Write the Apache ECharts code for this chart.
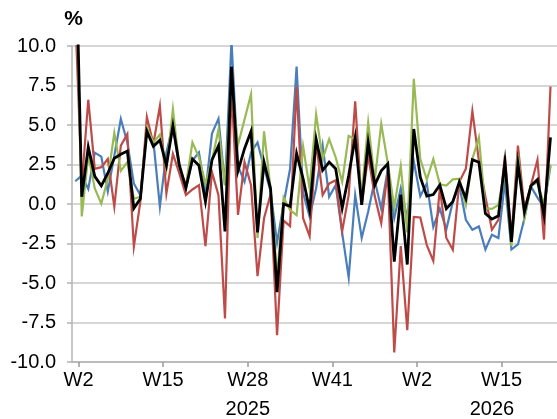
<!DOCTYPE html>
<html>
<head>
<meta charset="utf-8">
<title>Weekly change</title>
<script src="https://cdn.jsdelivr.net/npm/echarts@6/dist/echarts.min.js"></script>
<style>
  html, body { margin: 0; padding: 0; background: #fff; }
  #main { width: 557px; height: 419px; }
</style>
</head>
<body>
<div id="main"></div>
<script>
// one value per week, first point is W1 2025, last is W22 2026
const blueSeries = [1.44, 1.8, 0.95, 3.25, 3.0, 0.8, 3.06, 5.38, 3.9, 1.3,
  0.56, 4.7, 4.0, -0.17, 3.27, 5.0, 2.2, 1.0, 2.75, 3.27,
  0.77, 4.46, 5.4, 1.2, 10.3, 2.4, 1.4, 3.27, 3.9, 2.3,
  0.8, -2.45, 0.0, 2.23, 8.7, 0.7, -0.8, 1.0, 3.7, 0.46,
  1.19, -1.83, -4.65, 0.56, -2.15, -0.48, 1.5, -0.3, 2.2, -0.9,
  1.0, -0.9, 2.7, 0.5, 1.3, -1.45, -0.3, -1.6, 0.15, 1.19,
  -1.0, -1.63, -1.42, -2.88, -1.94, -2.15, 1.4, -2.88, -2.56, -0.9,
  1.1, 0.4, -0.2, 2.4]

const redSeries = [12, 1.2, 6.6, 2.23, 2.33, 2.85, -0.17, 3.69, 4.42, -2.7,
  0.15, 5.5, 3.8, 6.2, 0.67, 3.17, 1.92, 0.56, 0.92, 1.19,
  -2.67, 2.02, 0.56, -7.25, 7.3, -0.69, 2.65, 1.19, -4.57, -0.9,
  0.6, -8.3, -1.05, -1.4, 7.44, -0.9, -2.04, 3.9, 0.56, 1.29,
  1.5, -1.73, 0.56, 6.5, -0.06, 3.06, 0.5, -1.21, 2.0, -9.4,
  -2.67, -7.98, -0.82, -0.85, -2.6, -3.6, 1.0, -2.15, -2.9, 1.4,
  2.23, 5.88, 2.75, 0.46, -1.63, -1.0, 3.06, -2.1, 3.69, -0.3,
  1.19, 2.8, -2.25, 7.44]

const greenSeries = [17, -0.79, 3.1, 0.98, 0.02, 1.6, 4.5, 2.1, 2.65, 0.33,
  0.46, 4.83, 3.9, 4.4, 2.2, 6.0, 2.33, 1.19, 3.9, 2.96,
  1.29, 2.75, 4.73, 1.19, 7.6, 3.75, 5.35, 6.95, -2.15, 4.6,
  0.98, -4.6, 0.4, -0.38, -0.7, 3.65, 0.98, 5.67, 2.85, 4.1,
  2.96, 1.4, 4.31, 4.1, 0.56, 5.15, 1.5, 5.07, 2.6, -0.2,
  2.4, -1.8, 7.92, 2.85, 1.55, 2.85, 1.25, 1.17, 1.56, 1.6,
  -0.06, 2.85, 4.21, -0.27, -0.31, -0.06, 2.23, -2.67, 3.15, -0.9,
  1.19, 1.35, 0.0, 2.5]

const blackSeries = [18, 0.46, 3.6, 1.75, 1.15, 1.95, 2.9, 3.15, 3.35, -0.27,
  0.33, 4.6, 3.65, 4.04, 2.44, 4.94, 2.44, 1.02, 2.85, 2.44,
  0.15, 2.79, 3.69, -1.73, 8.69, 2.1, 3.5, 4.6, -1.8, 2.65,
  0.98, -5.58, 0.0, -0.15, 3.2, 1.6, -0.38, 4.1, 2.13, 2.65,
  2.23, -0.27, 1.81, 4.21, -0.06, 3.9, 1.2, 2.1, 2.54, -3.65,
  0.6, -3.83, 4.75, 1.7, 0.5, 0.6, 1.2, -0.3, 0.15, 1.4,
  0.35, 2.81, 2.65, -0.6, -0.96, -0.75, 2.65, -2.4, 2.55, -0.5,
  1.15, 1.55, -0.7, 4.21]

const tickLabels = ['W2', 'W15', 'W28', 'W41', 'W2', 'W15']
const years = ['2025', '2026']
const weeksPerTick = 13

const font = 'Liberation Sans, Arial, sans-serif'
const gridGray = '#c9c9c9'
const axisGray = '#b3b3b3'

// ticks sit on the week boundaries (half a week after the point)
const tickPos = tickLabels.map((_, k) => 0.5 + k * weeksPerTick)
const yearPos = [tickPos[2], 64]
const xMin = -0.5
const xMax = blackSeries.length

const toPoints = arr => arr.map((v, i) => [i, v])

const lines = [
  { data: blueSeries, color: '#4a7ebb', width: 2.2 },
  { data: redSeries, color: '#be4b48', width: 2.2 },
  { data: greenSeries, color: '#98b954', width: 2.2 },
  { data: blackSeries, color: '#000000', width: 2.8 },
]

const myChart = echarts.init(document.getElementById('main'), null, { renderer: 'canvas' })

const option = {
  animation: false,
  backgroundColor: '#ffffff',
  grid: { left: 72, right: 0, top: 46, bottom: 53 },
  xAxis: [
    {
      type: 'value',
      min: xMin,
      max: xMax,
      axisLine: { show: true, onZero: false, lineStyle: { color: axisGray, width: 1.5 } },
      axisTick: { show: true, length: 5, customValues: tickPos, lineStyle: { color: '#999', width: 1.5 } },
      splitLine: { show: false },
      axisLabel: {
        customValues: tickPos,
        formatter: v => tickLabels[Math.round((v - 0.5) / weeksPerTick)],
        fontFamily: font,
        fontSize: 20,
        color: '#000',
        margin: 8,
      },
    },
    {
      type: 'value',
      position: 'bottom',
      offset: 29,
      min: xMin,
      max: xMax,
      axisLine: { show: false },
      axisTick: { show: false },
      splitLine: { show: false },
      axisLabel: {
        customValues: yearPos,
        formatter: v => years[yearPos.indexOf(v)],
        fontFamily: font,
        fontSize: 20,
        color: '#000',
        margin: 8,
      },
    },
  ],
  yAxis: {
    type: 'value',
    min: -10,
    max: 10,
    interval: 2.5,
    name: '%',
    nameLocation: 'end',
    nameGap: 16,
    nameTextStyle: { fontFamily: font, fontSize: 21, fontWeight: 'bold', color: '#000', padding: [0, 0, 0, 3] },
    axisLine: { show: true, onZero: false, lineStyle: { color: axisGray, width: 1.5 } },
    axisTick: { show: true, length: 5, lineStyle: { color: axisGray, width: 1.5 } },
    splitLine: { show: true, lineStyle: { color: gridGray, width: 1.5 } },
    axisLabel: {
      formatter: v => v.toFixed(1),
      fontFamily: font,
      fontSize: 20,
      color: '#000',
      margin: 16,
    },
  },
  series: lines.map(s => ({
    type: 'line',
    xAxisIndex: 0,
    data: toPoints(s.data),
    symbol: 'none',
    clip: true,
    lineStyle: { color: s.color, width: s.width, join: 'miter' },
  })),
}

myChart.setOption(option)
</script>
</body>
</html>
